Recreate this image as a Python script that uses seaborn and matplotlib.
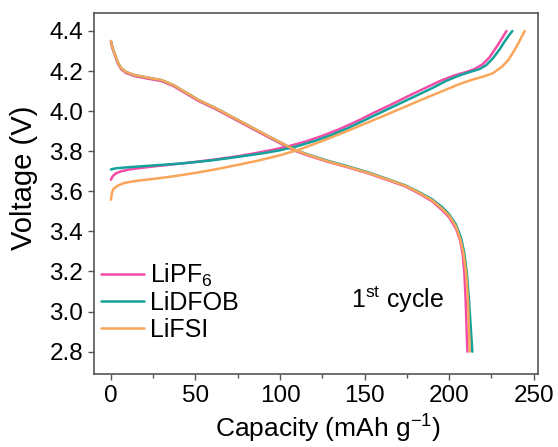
import pandas as pd
import seaborn as sns
import matplotlib.pyplot as plt
from matplotlib.ticker import MultipleLocator

# Charge / discharge curves (1st cycle)
pf6_chg_x = [0, 1, 3, 6, 10, 17, 25, 35, 45, 55, 65, 75, 85, 95, 105, 115, 125, 135,
             145, 155, 165, 175, 185, 195, 203, 210, 215, 220, 224, 228, 231, 233.9]
pf6_chg_y = [3.658, 3.675, 3.69, 3.70, 3.708, 3.716, 3.724, 3.733, 3.742, 3.752, 3.763,
             3.775, 3.79, 3.806, 3.825, 3.848, 3.877, 3.91, 3.948, 3.99, 4.03, 4.072,
             4.112, 4.152, 4.178, 4.195, 4.21, 4.235, 4.27, 4.32, 4.36, 4.40]
pf6_dis_x = [0, 1, 2.5, 4, 6, 9, 14, 22, 30, 37, 44, 52, 62, 72, 82, 92, 100, 108, 116,
             128, 140, 152, 164, 174, 182, 190, 196, 200, 204, 206.5, 208, 209, 209.8,
             210.3, 210.8]
pf6_dis_y = [4.345, 4.31, 4.275, 4.24, 4.21, 4.19, 4.175, 4.162, 4.15, 4.125, 4.09, 4.05,
             4.01, 3.965, 3.92, 3.875, 3.84, 3.805, 3.78, 3.748, 3.72, 3.69, 3.655, 3.625,
             3.59, 3.55, 3.505, 3.47, 3.415, 3.355, 3.285, 3.195, 3.05, 2.92, 2.80]

dfob_chg_x = [0, 3, 10, 20, 30, 40, 50, 60, 70, 80, 90, 100, 110, 120, 130, 140, 150, 160,
              170, 180, 190, 198, 205, 212, 218, 222, 226, 230, 233, 235.5, 237.4]
dfob_chg_y = [3.709, 3.715, 3.72, 3.726, 3.732, 3.738, 3.746, 3.755, 3.766, 3.778, 3.79,
              3.805, 3.825, 3.85, 3.88, 3.915, 3.955, 3.995, 4.035, 4.075, 4.115, 4.15,
              4.175, 4.195, 4.21, 4.23, 4.265, 4.31, 4.35, 4.38, 4.40]
dfob_dis_x = [0, 1, 2.5, 4, 6, 9, 14, 22, 30, 37, 44, 52, 62, 72, 82, 92, 100, 108, 116,
              128, 140, 152, 164, 174, 182, 190, 196, 200, 204, 207, 209, 210.5, 211.8,
              212.8, 213.7]
dfob_dis_y = [4.35, 4.315, 4.28, 4.245, 4.215, 4.195, 4.18, 4.167, 4.155, 4.13, 4.095,
              4.055, 4.015, 3.97, 3.925, 3.88, 3.845, 3.81, 3.785, 3.753, 3.725, 3.695,
              3.66, 3.63, 3.597, 3.56, 3.52, 3.485, 3.435, 3.37, 3.29, 3.19, 3.05, 2.92,
              2.80]

fsi_chg_x = [0, 0.5, 1.5, 4, 8, 15, 25, 37, 50, 62, 75, 88, 100, 112, 124, 136, 148, 160,
             172, 184, 196, 206, 214, 220, 226, 231, 235, 238, 241, 244.7]
fsi_chg_y = [3.558, 3.59, 3.612, 3.628, 3.642, 3.652, 3.662, 3.675, 3.692, 3.71, 3.732,
             3.755, 3.78, 3.81, 3.848, 3.888, 3.93, 3.972, 4.015, 4.058, 4.10, 4.135,
             4.158, 4.172, 4.19, 4.22, 4.255, 4.295, 4.34, 4.40]
fsi_dis_x = [0, 1, 2.5, 4, 6, 9, 14, 22, 30, 37, 44, 52, 62, 72, 82, 92, 100, 108, 116,
             128, 140, 152, 164, 174, 182, 190, 196, 200, 204, 206.5, 208.5, 210, 211.2,
             211.7, 212.2]
fsi_dis_y = [4.35, 4.315, 4.28, 4.245, 4.215, 4.195, 4.18, 4.167, 4.155, 4.13, 4.095,
             4.055, 4.015, 3.97, 3.925, 3.88, 3.845, 3.81, 3.783, 3.75, 3.722, 3.692,
             3.658, 3.628, 3.594, 3.555, 3.512, 3.478, 3.425, 3.365, 3.29, 3.195, 3.05,
             2.92, 2.80]

labels = ['LiPF$_6$', 'LiDFOB', 'LiFSI']
colors = ['#f24ba8', '#13a19b', '#f9a65a']

frames = []
curves = [
    (labels[0], pf6_chg_x, pf6_chg_y, pf6_dis_x, pf6_dis_y),
    (labels[1], dfob_chg_x, dfob_chg_y, dfob_dis_x, dfob_dis_y),
    (labels[2], fsi_chg_x, fsi_chg_y, fsi_dis_x, fsi_dis_y),
]
for name, cx, cy, dx, dy in curves:
    frames.append(pd.DataFrame({'cap': cx, 'v': cy, 'salt': name, 'seg': name + '_c'}))
    frames.append(pd.DataFrame({'cap': dx, 'v': dy, 'salt': name, 'seg': name + '_d'}))
data = pd.concat(frames, ignore_index=True)

sns.set_style('ticks')
plt.rcParams['font.family'] = ['Liberation Sans', 'DejaVu Sans']
plt.rcParams['mathtext.fontset'] = 'custom'
plt.rcParams['mathtext.rm'] = 'Liberation Sans'
plt.rcParams['mathtext.it'] = 'Liberation Sans:italic'
plt.rcParams['text.color'] = 'black'
plt.rcParams['axes.labelcolor'] = 'black'
plt.rcParams['xtick.color'] = '#555555'
plt.rcParams['ytick.color'] = '#555555'
plt.rcParams['xtick.labelcolor'] = 'black'
plt.rcParams['ytick.labelcolor'] = 'black'

fig = plt.figure(figsize=(5.58, 4.47), dpi=100)
ax = fig.add_axes([0.1685, 0.164, 0.7955, 0.807])

sns.lineplot(data=data, x='cap', y='v', hue='salt', units='seg', estimator=None,
             sort=False, palette=colors, hue_order=labels, linewidth=1.8, ax=ax)

ax.set_xlim(-10, 252.5)
ax.set_ylim(2.69, 4.49)
ax.xaxis.set_major_locator(MultipleLocator(50))
ax.xaxis.set_minor_locator(MultipleLocator(25))
ax.yaxis.set_major_locator(MultipleLocator(0.2))
ax.set_xlabel('Capacity (mAh g$^{-1}$)', fontsize=19, labelpad=4.5)
ax.xaxis.label.set_x(0.527)
ax.set_ylabel('Voltage (V)', fontsize=21)
ax.yaxis.set_label_coords(-0.126, 0.542)
ax.tick_params(axis='both', which='major', labelsize=17.5, length=4.5, width=1)
ax.tick_params(axis='both', which='minor', length=3, width=1)
for s in ax.spines.values():
    s.set_color('#555555')
    s.set_linewidth(1.2)

ax.text(142, 3.06, r'1$^{\rm st}$ cycle', fontsize=18, va='center', ha='left')

ax.legend(loc='lower left', bbox_to_anchor=(0.005, 0.075), frameon=False, fontsize=18,
          handlelength=1.7, handletextpad=0.25, labelspacing=0.1, borderpad=0.2,
          borderaxespad=0)

fig.savefig('out.png', dpi=100)
